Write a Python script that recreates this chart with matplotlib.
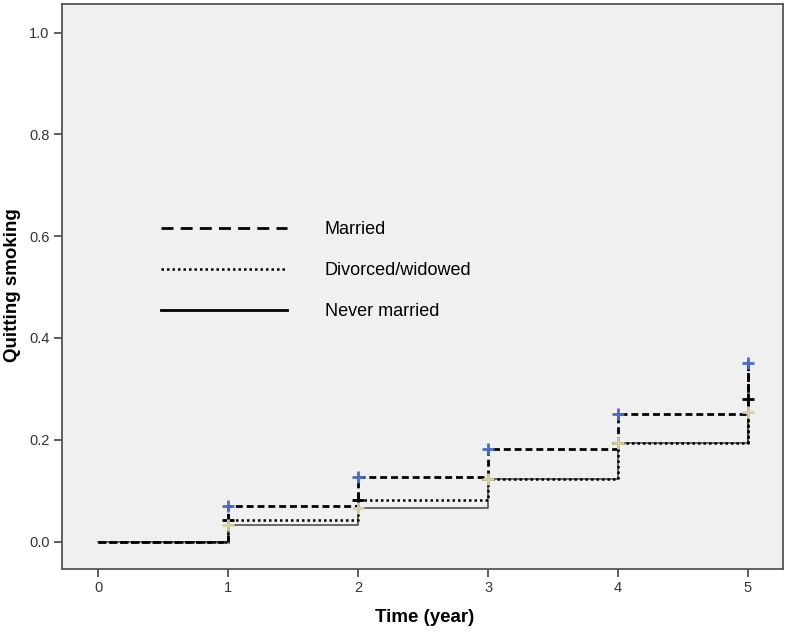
import matplotlib
matplotlib.use("Agg")
import matplotlib.pyplot as plt
from matplotlib.lines import Line2D

times = [0, 1, 2, 3, 4, 5]
married = [0.0, 0.069, 0.126, 0.181, 0.250, 0.351]
divorced = [0.0, 0.043, 0.081, 0.122, 0.193, 0.280]
never_married = [0.0, 0.032, 0.065, 0.122, 0.193, 0.254]
series_names = ["Married", "Divorced/widowed", "Never married"]
xticks = [0, 1, 2, 3, 4, 5]
yticks = [0.0, 0.2, 0.4, 0.6, 0.8, 1.0]

DASH = (0, (2.5, 1.4))
DOT = (0, (1, 1.2))

fig = plt.figure(figsize=(7.89, 6.32), dpi=100)
ax = fig.add_axes([62/789, 63/632, (783-62)/789, (569-4)/632])
ax.set_facecolor("#f0f0f0")

# never married: thin solid
ax.step(times, never_married, where="post", color="#444444", lw=1.1, zorder=2)
ax.plot([times[-1], times[-1]], [never_married[-2], never_married[-1]], color="#444444", lw=1.1, zorder=2)
# divorced: dotted
ax.step(times, divorced, where="post", color="black", lw=1.8, ls=DOT, zorder=3)
ax.plot([times[-1], times[-1]], [divorced[-2], divorced[-1]], color="black", lw=1.8, ls=DOT, zorder=3)
# married: dashed
ax.step(times, married, where="post", color="black", lw=2.0, ls=DASH, zorder=4)
ax.plot([times[-1], times[-1]], [married[-2], married[-1]], color="black", lw=2.0, ls=DASH, zorder=4)

# censor markers
ax.plot(times[1:], divorced[1:], ls="none", marker="+", ms=9, mew=2.0, color="black", zorder=5)
ax.plot(times[1:], never_married[1:], ls="none", marker="+", ms=9, mew=2.0, color="#d6d3a0", zorder=6)
ax.plot(times[1:], married[1:], ls="none", marker="+", ms=9, mew=2.0, color="#4a6cc0", zorder=7)

ax.set_xlim(-0.279, 5.27)
ax.set_ylim(-0.054, 1.056)
ax.set_xticks(xticks)
ax.set_xticklabels([str(t) for t in xticks])
ax.set_yticks(yticks)
ax.set_yticklabels([f"{t:.1f}" for t in yticks])

for lab in ax.get_xticklabels() + ax.get_yticklabels():
    lab.set_fontfamily(["Liberation Sans", "DejaVu Sans"])
    lab.set_fontsize(10.5)
    lab.set_color("#333333")
ax.tick_params(axis="both", direction="out", length=6, width=1.2, color="#444444", pad=3)

for s in ax.spines.values():
    s.set_color("#555555")
    s.set_linewidth(1.3)

labfont = dict(family=["Liberation Sans", "DejaVu Sans"], size=13.5, weight="bold")
ax.set_xlabel("Time (year)", va="center", ha="center", **labfont)
ax.set_ylabel("Quitting smoking", va="center", ha="center", **labfont)
ax.xaxis.set_label_coords((425-62)/721, -(618-569)/565)
ax.yaxis.set_label_coords(-(62-13)/721, (569-285)/565)

handles = [
    Line2D([], [], color="black", lw=2.0, ls=(0, (4.3, 2.6))),
    Line2D([], [], color="black", lw=1.8, ls=DOT),
    Line2D([], [], color="black", lw=2.0),
]
leg = ax.legend(handles, series_names, loc="upper left", bbox_to_anchor=(0.115, 0.645),
                frameon=False, handlelength=6.96, handletextpad=2.1, labelspacing=1.33,
                prop=dict(family=["Liberation Sans", "DejaVu Sans"], size=13))

fig.savefig("out.png", dpi=100)
